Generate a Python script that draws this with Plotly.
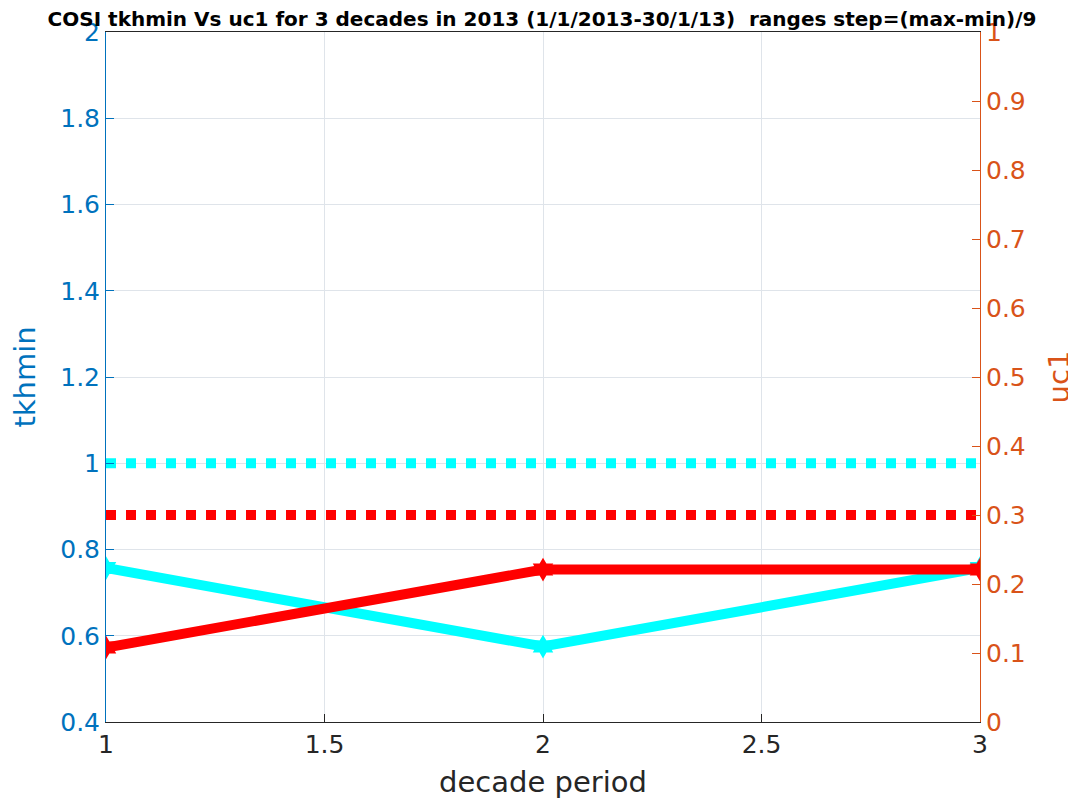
import plotly.graph_objects as go

decades = [1, 2, 3]
tkhmin = [0.757, 0.575, 0.757]
uc1 = [0.108, 0.221, 0.221]
tkhmin_ref = [1.0, 1.0, 1.0]
uc1_ref = [0.3, 0.3, 0.3]

x_ticks = [1, 1.5, 2, 2.5, 3]
left_ticks = [0.4, 0.6, 0.8, 1, 1.2, 1.4, 1.6, 1.8, 2]
right_ticks = [0, 0.1, 0.2, 0.3, 0.4, 0.5, 0.6, 0.7, 0.8, 0.9, 1]

BLUE = "#0072BD"
ORANGE = "#D95319"
FONT = "DejaVu Sans"

fig = go.Figure()
fig.add_trace(go.Scatter(x=decades, y=tkhmin_ref, mode="lines",
                         line=dict(color="#00FFFF", width=10, dash="10px,10px"),
                         yaxis="y", showlegend=False))
fig.add_trace(go.Scatter(x=decades, y=tkhmin, mode="lines+markers",
                         line=dict(color="#00FFFF", width=10),
                         marker=dict(symbol="hexagram", size=18, color="#00FFFF"),
                         yaxis="y", showlegend=False))
fig.add_trace(go.Scatter(x=decades, y=uc1_ref, mode="lines",
                         line=dict(color="#FF0000", width=10, dash="10px,10px"),
                         yaxis="y2", showlegend=False))
fig.add_trace(go.Scatter(x=decades, y=uc1, mode="lines+markers",
                         line=dict(color="#FF0000", width=10),
                         marker=dict(symbol="hexagram", size=18, color="#FF0000"),
                         yaxis="y2", showlegend=False))

fig.update_layout(
    width=1068, height=799,
    margin=dict(l=98, r=96, t=24, b=85, autoexpand=False),
    paper_bgcolor="white", plot_bgcolor="white",
    title=dict(text="<b>COSI tkhmin Vs uc1 for 3 decades in 2013 (1/1/2013-30/1/13)  ranges step=(max-min)/9</b>",
               x=0.5, xref="container", xanchor="center", yref="container", y=1 - 11 / 799, yanchor="middle",
               font=dict(family=FONT, size=20, color="#000000")),
    xaxis=dict(range=[1, 3], tickvals=x_ticks, ticktext=[str(v) for v in x_ticks],
               automargin=False,
               showgrid=True, gridcolor="#DFE4EA", gridwidth=1,
               showline=True, linecolor="#262626", linewidth=1, mirror=True,
               ticks="inside", ticklen=8, tickcolor="#262626",
               tickfont=dict(family=FONT, size=25, color="#262626"),
               title=dict(text="decade period", font=dict(family=FONT, size=29, color="#262626"), standoff=13),
               zeroline=False),
    yaxis=dict(range=[0.4, 2], tickvals=left_ticks, ticktext=["0.4", "0.6", "0.8", "1", "1.2", "1.4", "1.6", "1.8", "2"],
               automargin=False,
               showgrid=True, gridcolor="#DFE4EA", gridwidth=1,
               showline=True, linecolor=BLUE, linewidth=1,
               ticks="inside", ticklen=8, tickcolor=BLUE,
               tickfont=dict(family=FONT, size=25, color=BLUE),
               title=dict(text="tkhmin", font=dict(family=FONT, size=29, color=BLUE), standoff=19),
               zeroline=False),
    yaxis2=dict(range=[0, 1], tickvals=right_ticks, ticktext=["0", "0.1", "0.2", "0.3", "0.4", "0.5", "0.6", "0.7", "0.8", "0.9", "1"],
                automargin=False,
                overlaying="y", side="right", showgrid=False,
                showline=True, linecolor=ORANGE, linewidth=1,
                ticks="inside", ticklen=8, tickcolor=ORANGE,
                tickfont=dict(family=FONT, size=25, color=ORANGE),
                title=dict(text="uc1", font=dict(family=FONT, size=29, color=ORANGE), standoff=24),
                zeroline=False),
)

fig.write_html("out.html")
